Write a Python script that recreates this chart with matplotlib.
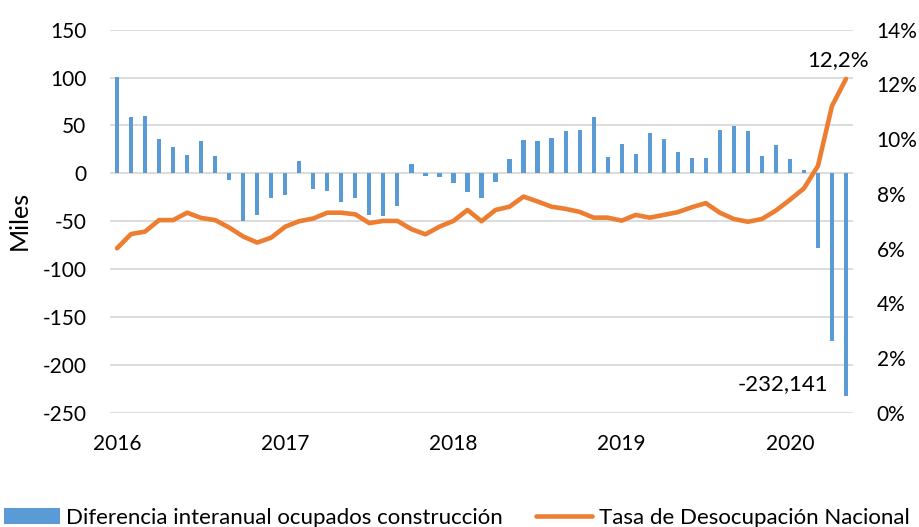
import matplotlib
matplotlib.use("Agg")
import matplotlib.pyplot as plt
from matplotlib.ticker import FuncFormatter, MultipleLocator
from matplotlib.patches import Patch
from matplotlib.lines import Line2D
import numpy as np

plt.rcParams['font.family'] = ['Lato', 'DejaVu Sans']
plt.rcParams['axes.unicode_minus'] = False

# diferencia interanual de ocupados en construcción (miles), ene-2016 .. may-2020
diferencia = [100.3, 58.5, 59.9, 36.2, 27.5, 19.2, 33.8, 18.1, -7.0, -49.8, -43.5, -26.1,
              -22.6, 12.5, -16.0, -18.5, -30.0, -26.1, -43.5, -44.6, -34.1, 9.4, -2.8, -3.8,
              -9.8, -19.5, -26.1, -9.1, 15.0, 34.5, 33.4, 36.9, 44.6, 45.3, 58.5, 17.1,
              31.0, 20.2, 41.8, 35.5, 22.0, 15.7, 16.4, 45.3, 49.5, 44.6, 18.5, 29.6,
              14.6, 3.8, -78.4, -175.3, -232.141]

# tasa de desocupación nacional (%)
tasa = [6.01, 6.53, 6.62, 7.04, 7.04, 7.31, 7.12, 7.04, 6.77, 6.44, 6.22, 6.40,
        6.80, 7.00, 7.10, 7.31, 7.31, 7.25, 6.93, 7.01, 7.01, 6.71, 6.52, 6.80,
        7.01, 7.41, 7.00, 7.41, 7.53, 7.90, 7.72, 7.53, 7.45, 7.34, 7.13, 7.13,
        7.02, 7.23, 7.13, 7.23, 7.33, 7.51, 7.66, 7.31, 7.08, 6.98, 7.08, 7.39,
        7.78, 8.20, 9.02, 11.21, 12.2]

anios = ["2016", "2017", "2018", "2019", "2020"]

azul = "#5B9BD5"
naranja = "#ED7D31"
gris = "#D9D9D9"

x = np.arange(len(diferencia))

fig = plt.figure(figsize=(9.19, 5.27), dpi=100)
ax = fig.add_axes([110 / 919, 1 - 412.8 / 527, 743 / 919, 383.2 / 527])
ax2 = ax.twinx()

ax.bar(x, diferencia, width=0.3, color=azul, zorder=2)
ax.set_ylim(-250, 150)
ax.yaxis.set_major_locator(MultipleLocator(50))
ax.set_xlim(-0.5, len(diferencia) - 0.5)
ax.set_xticks(x[::12])
ax.set_xticklabels(anios)
ax.grid(axis='y', color=gris, linewidth=1.3, zorder=0)
ax.set_axisbelow(True)
ax.set_ylabel("Miles", fontsize=18)
ax.yaxis.set_label_coords(-0.106, 0.503)

tasa_frac = [t / 100 for t in tasa]
ax2.plot(x, tasa_frac, color=naranja, linewidth=3.3, solid_joinstyle='round',
         solid_capstyle='round', zorder=3)
ax2.set_ylim(0, 0.14)
ax2.yaxis.set_major_locator(MultipleLocator(0.02))
ax2.yaxis.set_major_formatter(FuncFormatter(lambda v, p: f"{v * 100:.0f}%"))

for a in (ax, ax2):
    for s in a.spines.values():
        s.set_visible(False)
    a.tick_params(length=0, labelsize=15, colors="#000000")
ax.tick_params(axis='y', pad=17)
ax.tick_params(axis='x', pad=15)
ax2.tick_params(axis='y', pad=17)

# etiquetas de datos
ax2.annotate("12,2%", (x[-1], tasa_frac[-1]), xytext=(-6, 6), textcoords='offset points',
             ha='center', va='bottom', fontsize=16)
ax.annotate("-232,141", (x[-1], diferencia[-1]), xytext=(-13, 1), textcoords='offset points',
            ha='right', va='bottom', fontsize=16)

handles = [Patch(facecolor=azul, edgecolor='none'),
           Line2D([0], [0], color=naranja, linewidth=3.3, solid_capstyle='round')]
labels = ["Diferencia interanual ocupados construcción", "Tasa de Desocupación Nacional"]
fig.legend(handles, labels, loc='center', bbox_to_anchor=(0.497, 0.018), ncol=2,
           frameon=False, fontsize=16, handlelength=2.5, handleheight=0.7,
           handletextpad=0.3, columnspacing=1.5)

fig.savefig("out.png", dpi=100)
